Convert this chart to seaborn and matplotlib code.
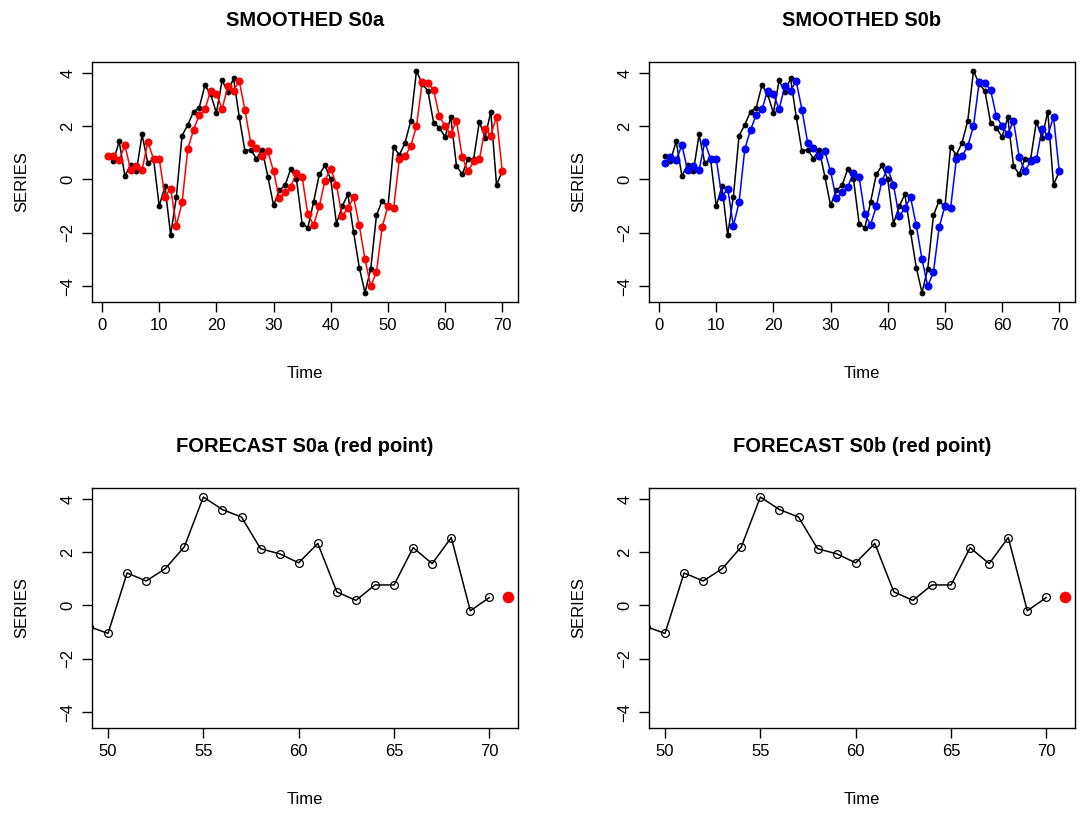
import matplotlib
matplotlib.use("Agg")
import matplotlib.pyplot as plt
import numpy as np
import pandas as pd
import seaborn as sns

# observed series, t = 1..70
series = [
    0.87, 0.71, 1.43, 0.125, 0.56, 0.30, 1.69, 0.61, 0.78, -1.00,
    -0.26, -2.08, -0.64, 1.65, 2.05, 2.55, 2.70, 3.54, 3.19, 2.50,
    3.72, 3.28, 3.80, 2.34, 1.06, 1.125, 0.78, 1.125, 0.11, -0.975,
    -0.41, -0.225, 0.39, 0.025, -1.66, -1.81, -0.85, 0.19, 0.525, 0.01,
    -1.66, -1.01, -0.56, -1.98, -3.31, -4.25, -3.35, -1.35, -0.79, -1.05,
    1.22, 0.92, 1.38, 2.20, 4.07, 3.60, 3.32, 2.13, 1.94, 1.60,
    2.33, 0.51, 0.19, 0.77, 0.77, 2.17, 1.57, 2.55, -0.20, 0.30,
]

# smoothed, initial value S0a
smooth_a = [
    0.875, 0.875, 0.74, 1.28, 0.36, 0.51, 0.36, 1.40, 0.78, 0.78,
    -0.64, -0.34, -1.74, -0.86, 1.15, 1.86, 2.43, 2.63, 3.34, 3.21,
    2.64, 3.50, 3.34, 3.69, 2.61, 1.375, 1.175, 0.875, 1.06, 0.30,
    -0.71, -0.475, -0.29, 0.26, 0.09, -1.31, -1.70, -1.01, -0.04, 0.41,
    -0.20, -1.39, -1.075, -0.675, -1.725, -3.00, -4.01, -3.475, -1.79, -1.00,
    -1.075, 0.75, 0.875, 1.25, 2.00, 3.65, 3.61, 3.36, 2.375, 2.01,
    1.69, 2.21, 0.84, 0.31, 0.675, 0.75, 1.90, 1.65, 2.36, 0.31,
]

# smoothed, initial value S0b
smooth_b = [
    0.60, 0.84, 0.74, 1.28, 0.34, 0.51, 0.36, 1.40, 0.78, 0.78,
    -0.66, -0.34, -1.74, -0.86, 1.15, 1.86, 2.43, 2.63, 3.34, 3.21,
    2.64, 3.50, 3.34, 3.69, 2.61, 1.375, 1.175, 0.875, 1.06, 0.30,
    -0.71, -0.475, -0.29, 0.26, 0.09, -1.31, -1.70, -1.01, -0.04, 0.41,
    -0.20, -1.39, -1.075, -0.675, -1.725, -3.00, -4.01, -3.475, -1.79, -1.00,
    -1.075, 0.75, 0.875, 1.25, 2.00, 3.65, 3.61, 3.36, 2.375, 2.01,
    1.69, 2.21, 0.84, 0.31, 0.675, 0.75, 1.90, 1.65, 2.36, 0.31,
]

forecast_t = 71
forecast_a = 0.31
forecast_b = 0.31

time = np.arange(1, len(series) + 1)
df = pd.DataFrame({"Time": time, "series": series, "s0a": smooth_a, "s0b": smooth_b})

sns.set_theme(style="white")
plt.rcParams["font.family"] = ["Liberation Sans", "DejaVu Sans"]
plt.rcParams["text.color"] = "black"
plt.rcParams["xtick.color"] = "black"
plt.rcParams["ytick.color"] = "black"

W, H = 1081, 821
fig = plt.figure(figsize=(W / 100, H / 100), dpi=100)

# axes boxes in pixels: left, top, width, height
boxes = {
    "tl": (92, 62, 426, 240),
    "tr": (649, 62, 426, 240),
    "bl": (92, 488, 426, 240),
    "br": (649, 488, 426, 240),
}


def make_ax(key):
    l, t, w, h = boxes[key]
    ax = fig.add_axes([l / W, 1 - (t + h) / H, w / W, h / H])
    for s in ax.spines.values():
        s.set_color("black")
        s.set_linewidth(1.0)
    ax.tick_params(axis="both", direction="out", length=7, width=1,
                   colors="black", labelsize=12, bottom=True, left=True)
    ax.tick_params(axis="x", pad=4.5)
    ax.tick_params(axis="y", pad=5)
    ax.text(0.5, -71 / h, "Time", transform=ax.transAxes, ha="center",
            va="center", fontsize=12)
    ax.text(-70 / w, 0.5, "SERIES", transform=ax.transAxes, ha="center",
            va="center", rotation=90, fontsize=12)
    return ax


def title(key, text):
    l, t, w, h = boxes[key]
    fig.text((l + w / 2) / W, 1 - (t - 42) / H, text, ha="center",
             va="center", fontsize=14.5, fontweight="bold")


def finish(ax, xlim, xticks):
    ax.set_xlim(*xlim)
    ax.set_ylim(-4.6, 4.41)
    ax.set_xticks(xticks)
    ax.set_yticks([-4, -2, 0, 2, 4])
    ax.set_xlabel("")
    ax.set_ylabel("")
    for lab in ax.get_yticklabels():
        lab.set_rotation(90)
        lab.set_va("center")


def smoothed_panel(key, col, color, name):
    ax = make_ax(key)
    sns.lineplot(data=df, x="Time", y="series", ax=ax, color="black",
                 linewidth=1.1, marker="o", markersize=4.2,
                 markeredgewidth=0)
    sns.lineplot(data=df, x="Time", y=col, ax=ax, color=color,
                 linewidth=1.1, marker="o", markersize=5.8,
                 markeredgewidth=0)
    finish(ax, (-1.76, 72.76), [0, 10, 20, 30, 40, 50, 60, 70])
    title(key, "SMOOTHED " + name)


def forecast_panel(key, fc, name):
    ax = make_ax(key)
    sns.lineplot(data=df, x="Time", y="series", ax=ax, color="black",
                 linewidth=1.1, marker="o", markersize=5.6,
                 markerfacecolor="none", markeredgecolor="black",
                 markeredgewidth=0.9)
    sns.scatterplot(x=[forecast_t], y=[fc], ax=ax, color="red", s=70,
                    linewidth=0, zorder=5)
    finish(ax, (49.16, 71.5), [50, 55, 60, 65, 70])
    title(key, "FORECAST " + name + " (red point)")


smoothed_panel("tl", "s0a", "red", "S0a")
smoothed_panel("tr", "s0b", "blue", "S0b")
forecast_panel("bl", forecast_a, "S0a")
forecast_panel("br", forecast_b, "S0b")

fig.savefig("out.png", dpi=100, facecolor="white")
